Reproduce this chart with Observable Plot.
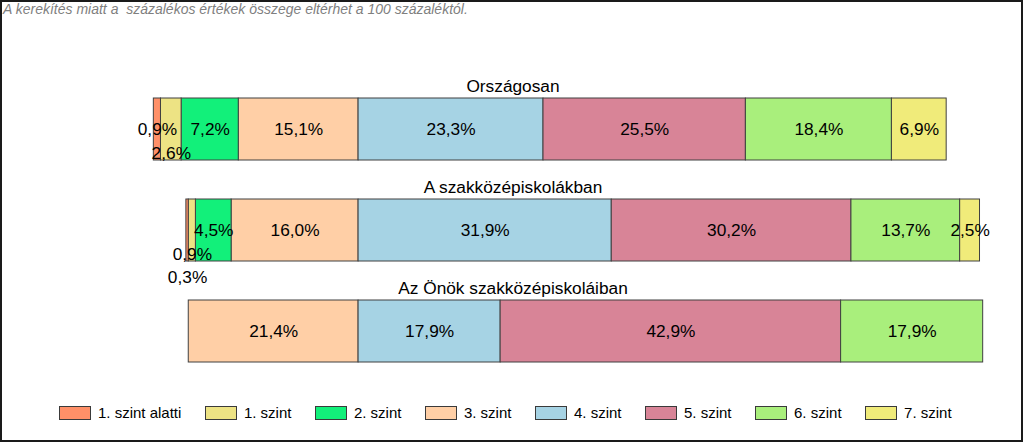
<!DOCTYPE html>
<html><head><meta charset="utf-8">
<script src="https://cdn.jsdelivr.net/npm/d3@7"></script>
<script src="https://cdn.jsdelivr.net/npm/@observablehq/plot@0.6"></script>
<style>
html,body{margin:0;padding:0;background:#fff;}
body{width:1024px;height:443px;position:relative;overflow:hidden;font-family:"Liberation Sans",Arial,sans-serif;}
#chart{position:absolute;left:0;top:0;}
#note{position:absolute;left:3px;top:1px;font-size:14px;line-height:16px;font-style:italic;color:#7f7f7f;white-space:pre;}
#legend{position:absolute;left:59px;top:405px;display:flex;}
.item{flex:none;display:flex;align-items:center;font-size:15px;line-height:15px;color:#000;white-space:nowrap;margin-right:23.5px;}
.sw{width:32px;height:14px;box-sizing:border-box;border:1px solid #3a3a3a;margin-right:7px;flex:none;}
#frame{position:absolute;left:0;top:0;width:1023px;height:442px;box-sizing:border-box;border:2px solid #1a1a1a;pointer-events:none;}
</style>
</head><body>
<div id="chart"></div>
<div id="note"></div>
<div id="legend"></div>
<div id="frame"></div>
<script>
const note = "A kerekítés miatt a  százalékos értékek összege eltérhet a 100 százaléktól.";
const groups = ["Országosan", "A szakközépiskolákban", "Az Önök szakközépiskoláiban"];
const levels = ["1. szint alatti", "1. szint", "2. szint", "3. szint", "4. szint", "5. szint", "6. szint", "7. szint"];
const colors = ["#FF9068", "#EDE384", "#12F07A", "#FFCFA6", "#A6D3E4", "#D88497", "#A9EF7C", "#F0EB7A"];
const orszagosan = [0.9, 2.6, 7.2, 15.1, 23.3, 25.5, 18.4, 6.9];
const szakkozep  = [0.3, 0.9, 4.5, 16.0, 31.9, 30.2, 13.7, 2.5];
const onok       = [0, 0, 0, 21.4, 17.9, 42.9, 17.9, 0];
const seriesValues = [orszagosan, szakkozep, onok];
const leftCount = 4; // levels 0..3 go left of the 3/4 boundary

const FONT = "'Liberation Sans', Arial, sans-serif";
const LABEL_SIZE = 17.3;
const fmt = v => d3.format(".1f")(v).replace(".", ",") + "%";

// build segments (diverging at the boundary between 3. and 4. szint)
const segs = [];
seriesValues.forEach((vals, gi) => {
  let acc = 0;
  for (let i = leftCount - 1; i >= 0; --i) {
    segs.push({group: groups[gi], level: levels[i], value: vals[i], x1: -acc - vals[i], x2: -acc, side: "L", order: leftCount - 1 - i});
    acc += vals[i];
  }
  acc = 0;
  for (let i = leftCount; i < levels.length; ++i) {
    segs.push({group: groups[gi], level: levels[i], value: vals[i], x1: acc, x2: acc + vals[i], side: "R", order: i - leftCount});
    acc += vals[i];
  }
});
const bars = segs.filter(d => d.value > 0);

// label collision placement (from the center outward, one line lower when overlapping)
const marginLeft = 120, marginRight = 31, width = 1024;
const xScale = d3.scaleLinear([-30, 80], [marginLeft, width - marginRight]);
const ctx = document.createElement("canvas").getContext("2d");
ctx.font = `${LABEL_SIZE}px ${FONT}`;
const pad = 6;
const labels = [];
for (const g of groups) {
  for (const side of ["L", "R"]) {
    const placed = [];
    const list = bars.filter(d => d.group === g && d.side === side).sort((a, b) => a.order - b.order);
    for (const d of list) {
      const t = fmt(d.value);
      const w = ctx.measureText(t).width;
      const cx = xScale((d.x1 + d.x2) / 2);
      const a = cx - w / 2, b = cx + w / 2;
      let line = 0;
      while (placed.some(p => p.line === line && a < p.b + pad && b > p.a - pad)) line++;
      placed.push({a, b, line});
      labels.push({...d, text: t, line});
    }
  }
}
const maxLine = d3.max(labels, d => d.line);

const marks = [
  Plot.barX(bars, {x1: "x1", x2: "x2", y: "group", fill: "level", stroke: "#404040", strokeWidth: 1}),
];
for (let l = 0; l <= maxLine; ++l) {
  marks.push(Plot.text(labels.filter(d => d.line === l), {
    x: d => (d.x1 + d.x2) / 2, y: "group", text: "text",
    fill: "#000", fontSize: LABEL_SIZE, dy: l * 23.5
  }));
}
marks.push(Plot.text(groups, {y: d => d, text: d => d, frameAnchor: "middle", dx: -44, dy: -43, fontSize: LABEL_SIZE, fill: "#000"}));

const chart = Plot.plot({
  width, height: 443,
  marginLeft, marginRight, marginTop: 57.6, marginBottom: 40.6,
  x: {domain: [-30, 80], axis: null},
  y: {domain: groups, padding: 0.39, axis: null},
  color: {domain: levels, range: colors},
  style: {fontFamily: FONT, background: "#fff"},
  marks
});
document.getElementById("chart").appendChild(chart);

document.getElementById("note").textContent = note;
const legend = document.getElementById("legend");
levels.forEach((lv, i) => {
  const item = document.createElement("div");
  item.className = "item";
  const sw = document.createElement("span");
  sw.className = "sw";
  sw.style.background = colors[i];
  const lab = document.createElement("span");
  lab.textContent = lv;
  item.appendChild(sw); item.appendChild(lab);
  legend.appendChild(item);
});
</script>
</body></html>
